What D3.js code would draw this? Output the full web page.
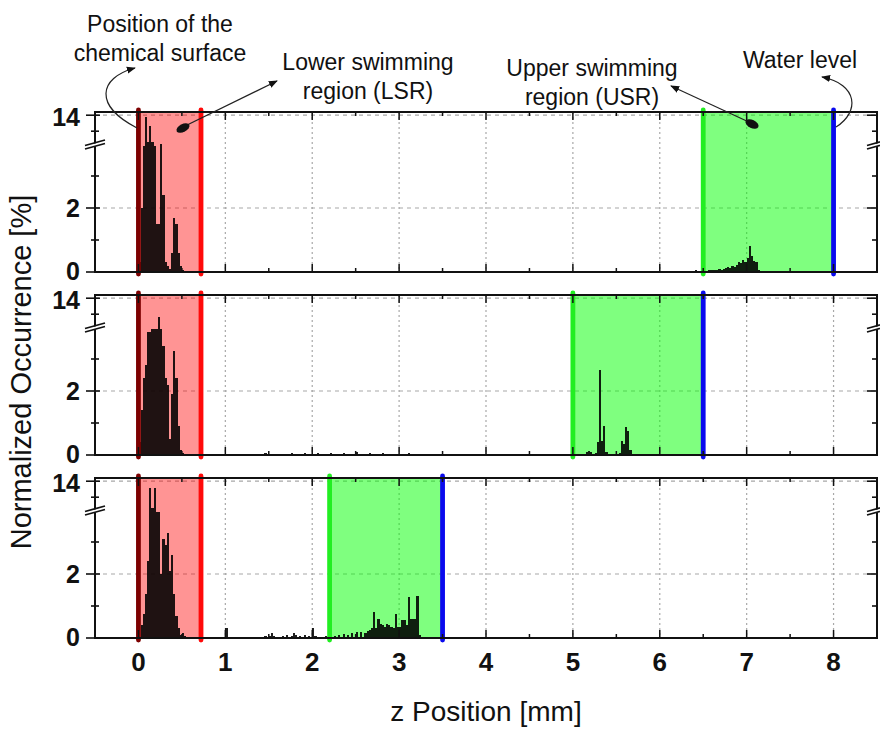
<!DOCTYPE html>
<html>
<head>
<meta charset="utf-8">
<script src="https://cdn.jsdelivr.net/npm/d3@7"></script>
<style>
  body { margin: 0; background: #fff; }
  svg { display: block; }
</style>
</head>
<body>
<svg id="chart" width="880" height="729"></svg>
<script>
// ---- data -------------------------------------------------------------
const binWidth = 0.025;                       // histogram bin width [mm]
const zTicks = [0, 1, 2, 3, 4, 5, 6, 7, 8];
const yTickLabels = [0, 2, 14];
const yMinorTicks = [1, 3, 13];

// [lower edge, upper edge] of the lower / upper swimming regions per run
const lsrBounds = [[0, 0.72], [0, 0.72], [0, 0.72]];
const usrBounds = [[6.5, 8.0], [5.0, 6.5], [2.2, 3.5]];

// [bin start z (mm), normalized occurrence (%)]
const occurrenceTop = [
  [0.000, 0.3], [0.025, 2.0], [0.050, 3.95], [0.075, 13.9], [0.100, 12.3],
  [0.125, 13.3], [0.150, 12.3], [0.175, 3.95], [0.200, 1.5], [0.225, 1.5],
  [0.250, 4.0], [0.275, 2.4], [0.300, 0.3], [0.325, 0.2], [0.350, 0.1],
  [0.375, 0.6], [0.400, 1.7], [0.425, 1.5], [0.450, 0.6], [0.475, 0.2],
  [0.500, 0.05],
  [1.200, 0.02], [2.300, 0.02], [3.100, 0.02], [4.400, 0.02], [5.600, 0.02],
  [6.100, 0.03], [6.300, 0.04], [6.400, 0.05],
  [6.500, 0.05], [6.525, 0.04], [6.550, 0.05], [6.575, 0.06], [6.600, 0.05],
  [6.625, 0.07], [6.650, 0.06], [6.675, 0.08], [6.700, 0.07], [6.725, 0.10],
  [6.750, 0.12], [6.775, 0.15], [6.800, 0.12], [6.825, 0.18], [6.850, 0.15],
  [6.875, 0.22], [6.900, 0.30], [6.925, 0.28], [6.950, 0.38], [6.975, 0.30],
  [7.000, 0.45], [7.025, 0.80], [7.050, 0.50], [7.075, 0.35], [7.100, 0.30],
  [7.125, 0.05]
];

const occurrenceMid = [
  [0.000, 0.4], [0.025, 1.4], [0.050, 2.4], [0.075, 2.8], [0.100, 3.85],
  [0.125, 3.85], [0.150, 3.95], [0.175, 3.95], [0.200, 3.95], [0.225, 12.8],
  [0.250, 3.95], [0.275, 3.4], [0.300, 2.4], [0.325, 2.2], [0.350, 0.5],
  [0.375, 1.9], [0.400, 3.26], [0.425, 2.4], [0.450, 0.9], [0.475, 0.17],
  [0.500, 0.05],
  [1.300, 0.03], [1.450, 0.05], [1.600, 0.04], [1.750, 0.06], [1.900, 0.05],
  [2.050, 0.07], [2.200, 0.05], [2.350, 0.06], [2.500, 0.08], [2.650, 0.05],
  [2.800, 0.06], [2.950, 0.04], [3.100, 0.05], [3.250, 0.04], [3.400, 0.03],
  [3.550, 0.03],
  [5.050, 0.02], [5.100, 0.03], [5.150, 0.10], [5.175, 0.13], [5.200, 0.08],
  [5.225, 0.03], [5.250, 0.05], [5.275, 0.40], [5.300, 2.66], [5.325, 0.45],
  [5.350, 0.92], [5.375, 0.10], [5.400, 0.03], [5.450, 0.02], [5.500, 0.03],
  [5.525, 0.05], [5.550, 0.45], [5.575, 0.35], [5.600, 0.86], [5.625, 0.75],
  [5.650, 0.15], [5.675, 0.03]
];

const occurrenceBottom = [
  [0.025, 0.4], [0.050, 0.76], [0.075, 1.38], [0.100, 2.4], [0.125, 13.6],
  [0.150, 12.3], [0.175, 13.6], [0.200, 3.95], [0.225, 3.95], [0.250, 2.0],
  [0.275, 3.1], [0.300, 2.9], [0.325, 3.27], [0.350, 2.1], [0.375, 2.6],
  [0.400, 1.38], [0.425, 0.7], [0.450, 0.3], [0.475, 0.1], [0.500, 0.15],
  [0.525, 0.05],
  [1.000, 0.3], [1.300, 0.03], [1.350, 0.04], [1.400, 0.03], [1.450, 0.06],
  [1.500, 0.05], [1.525, 0.15], [1.550, 0.05], [1.600, 0.04], [1.650, 0.06],
  [1.700, 0.08], [1.750, 0.06], [1.775, 0.17], [1.800, 0.08], [1.850, 0.06],
  [1.900, 0.10], [1.950, 0.07], [2.000, 0.30], [2.025, 0.05], [2.100, 0.04],
  [2.150, 0.05], [2.200, 0.06], [2.250, 0.07], [2.300, 0.10], [2.350, 0.12],
  [2.400, 0.10], [2.450, 0.15], [2.500, 0.18], [2.550, 0.20], [2.600, 0.15],
  [2.625, 0.22], [2.650, 0.25], [2.675, 0.30], [2.700, 0.80], [2.725, 0.30],
  [2.750, 0.60], [2.775, 0.45], [2.800, 0.40], [2.825, 0.35], [2.850, 0.45],
  [2.875, 0.40], [2.900, 0.35], [2.925, 0.30], [2.950, 0.75], [2.975, 0.35],
  [3.000, 0.35], [3.025, 0.55], [3.050, 0.55], [3.075, 0.40], [3.100, 1.27],
  [3.125, 0.60], [3.150, 0.60], [3.175, 0.60], [3.200, 1.30], [3.225, 0.10],
  [3.250, 0.03]
];

const runs = [occurrenceTop, occurrenceMid, occurrenceBottom];

const annotationLines = [
  { lines: ["Position of the", "chemical surface"], x: 160, y: 32 },
  { lines: ["Lower swimming", "region (LSR)"], x: 368, y: 70 },
  { lines: ["Upper swimming", "region (USR)"], x: 592, y: 76 },
  { lines: ["Water level"], x: 800, y: 68 }
];

// ---- layout -----------------------------------------------------------
const svg = d3.select("#chart");
const left = 95, right = 877;
const panelTops = [112, 295, 478];
const panelH = 160;
const font = "'Liberation Sans', Arial, sans-serif";

const x = d3.scaleLinear().domain([-0.5, 8.5]).range([left, right]);
// broken y axis: 0–4 in the lower part, 12.2–14.2 above the break
const y = d3.scaleLinear().domain([0, 4, 12.2, 14.2]).range([panelH, 32, 32, 0]);
const breakY = 32;

const defs = svg.append("defs");
defs.append("marker")
  .attr("id", "head")
  .attr("viewBox", "0 0 10 10")
  .attr("refX", 9).attr("refY", 5)
  .attr("markerWidth", 9).attr("markerHeight", 9)
  .attr("markerUnits", "userSpaceOnUse")
  .attr("orient", "auto")
  .append("path").attr("d", "M0,1 L10,5 L0,9 Z").attr("fill", "#111");

// one compound path per histogram, so neighbouring bins merge without seams
function histogramPath(data) {
  const p = d3.path();
  data.forEach(([z, v]) => {
    const x0 = x(z), x1 = x(z + binWidth), y0 = y(0), y1 = y(v);
    p.moveTo(x0, y0); p.lineTo(x0, y1); p.lineTo(x1, y1); p.lineTo(x1, y0); p.closePath();
  });
  return p.toString();
}

runs.forEach((data, i) => {
  const top = panelTops[i];
  const g = svg.append("g").attr("transform", `translate(0,${top})`);

  defs.append("clipPath").attr("id", `clip${i}`)
    .append("rect").attr("x", left).attr("y", 0)
    .attr("width", right - left).attr("height", panelH);

  // grid
  g.append("g").selectAll("line").data(zTicks).join("line")
    .attr("x1", d => x(d)).attr("x2", d => x(d))
    .attr("y1", 0).attr("y2", panelH)
    .attr("stroke", "#a8a8a8").attr("stroke-width", 1.2)
    .attr("stroke-dasharray", "2,3");
  g.append("g").selectAll("line").data([2, 14]).join("line")
    .attr("x1", left).attr("x2", right)
    .attr("y1", d => y(d)).attr("y2", d => y(d))
    .attr("stroke", "#a8a8a8").attr("stroke-width", 1.2)
    .attr("stroke-dasharray", "4,4");

  // swimming regions
  const [l0, l1] = lsrBounds[i];
  const [u0, u1] = usrBounds[i];
  g.append("rect").attr("x", x(l0)).attr("width", x(l1) - x(l0))
    .attr("y", 0).attr("height", panelH)
    .attr("fill", "#ff0000").attr("fill-opacity", 0.42);
  g.append("rect").attr("x", x(u0)).attr("width", x(u1) - x(u0))
    .attr("y", 0).attr("height", panelH)
    .attr("fill", "#00ff00").attr("fill-opacity", 0.5);

  // histogram
  g.append("path").attr("clip-path", `url(#clip${i})`)
    .attr("d", histogramPath(data))
    .attr("shape-rendering", "crispEdges")
    .attr("fill", "#000").attr("fill-opacity", 0.88);

  // region boundary lines
  const bounds = [[l0, "#7d0000"], [l1, "#ff0a0a"], [u0, "#22ee22"], [u1, "#0a0aee"]];
  g.append("g").selectAll("line").data(bounds).join("line")
    .attr("x1", d => x(d[0])).attr("x2", d => x(d[0]))
    .attr("y1", -2).attr("y2", panelH + 2)
    .attr("stroke", d => d[1]).attr("stroke-width", 4.8)
    .attr("stroke-linecap", "round");

  // frame
  g.append("rect").attr("x", left).attr("y", 0)
    .attr("width", right - left).attr("height", panelH)
    .attr("fill", "none").attr("stroke", "#111").attr("stroke-width", 2);

  // x ticks on top and bottom edges (pointing inward)
  const halfTicks = d3.range(0, 8.01, 0.5);
  g.append("g").selectAll("line").data(halfTicks).join("line")
    .attr("x1", d => x(d)).attr("x2", d => x(d))
    .attr("y1", panelH).attr("y2", d => panelH - (d % 1 === 0 ? 8 : 4))
    .attr("stroke", "#111").attr("stroke-width", 1.5);
  g.append("g").selectAll("line").data(halfTicks).join("line")
    .attr("x1", d => x(d)).attr("x2", d => x(d))
    .attr("y1", 0).attr("y2", d => (d % 1 === 0 ? 8 : 4))
    .attr("stroke", "#111").attr("stroke-width", 1.5);

  // y ticks left and right
  g.append("g").selectAll("line").data(yTickLabels).join("line")
    .attr("x1", left - 9).attr("x2", left + 5)
    .attr("y1", d => y(d)).attr("y2", d => y(d))
    .attr("stroke", "#111").attr("stroke-width", 1.6);
  g.append("g").selectAll("line").data(yMinorTicks).join("line")
    .attr("x1", left - 4).attr("x2", left + 4)
    .attr("y1", d => y(d)).attr("y2", d => y(d))
    .attr("stroke", "#111").attr("stroke-width", 1.6);
  g.append("g").selectAll("line").data(yTickLabels).join("line")
    .attr("x1", right - 10).attr("x2", right)
    .attr("y1", d => y(d)).attr("y2", d => y(d))
    .attr("stroke", "#111").attr("stroke-width", 1.6);
  g.append("g").selectAll("line").data(yMinorTicks).join("line")
    .attr("x1", right - 5).attr("x2", right)
    .attr("y1", d => y(d)).attr("y2", d => y(d))
    .attr("stroke", "#111").attr("stroke-width", 1.6);

  // axis break marks
  [left, right].forEach(ax => {
    const b = g.append("g").attr("transform", `translate(${ax},${breakY})`);
    b.append("path").attr("d", "M-9,2 L9,-3 L9,0 L-9,5 Z").attr("fill", "#fff");
    b.append("path").attr("d", "M-10,1.5 L10,-4 M-10,5 L10,-0.5")
      .attr("stroke", "#111").attr("stroke-width", 1.8);
  });

  // y tick labels
  g.append("g").selectAll("text").data(yTickLabels).join("text")
    .attr("x", 80).attr("y", d => y(d) + (d === 0 ? 8 : d === 14 ? 11 : 9))
    .attr("text-anchor", "end")
    .attr("font-family", font).attr("font-weight", "bold").attr("font-size", 25)
    .attr("fill", "#111")
    .text(d => d);
});

// x tick labels under the bottom panel
const bottom = panelTops[2] + panelH;
svg.append("g").selectAll("text").data(zTicks).join("text")
  .attr("x", d => x(d)).attr("y", bottom + 33)
  .attr("text-anchor", "middle")
  .attr("font-family", font).attr("font-weight", "bold").attr("font-size", 26)
  .attr("fill", "#111")
  .text(d => d);

// axis titles
svg.append("text")
  .attr("x", 486).attr("y", 721)
  .attr("text-anchor", "middle")
  .attr("font-family", font).attr("font-size", 28).attr("fill", "#111")
  .text("z Position [mm]");
svg.append("text")
  .attr("transform", "translate(31,372) rotate(-90)")
  .attr("text-anchor", "middle")
  .attr("font-family", font).attr("font-size", 29).attr("fill", "#111")
  .text("Normalized Occurrence [%]");

// annotations
annotationLines.forEach(a => {
  const t = svg.append("text")
    .attr("text-anchor", "middle")
    .attr("font-family", font).attr("font-size", 23).attr("fill", "#111");
  a.lines.forEach((s, k) => {
    t.append("tspan").attr("x", a.x).attr("y", a.y + k * 29).text(s);
  });
});

const arrows = svg.append("g").attr("fill", "none").attr("stroke", "#222").attr("stroke-width", 1.2);
arrows.append("path").attr("d", "M137,128 C94,106 98,78 135,68").attr("marker-end", "url(#head)");
arrows.append("path").attr("d", "M183,127 L277,81").attr("marker-end", "url(#head)");
arrows.append("path").attr("d", "M751,123 L671,86").attr("marker-end", "url(#head)");
arrows.append("path").attr("d", "M836,127 C860,112 858,84 822,77").attr("marker-end", "url(#head)");

// arrow tails
svg.append("ellipse").attr("cx", 183).attr("cy", 128).attr("rx", 7).attr("ry", 4)
  .attr("transform", "rotate(-27,183,128)").attr("fill", "#111");
svg.append("ellipse").attr("cx", 752).attr("cy", 124).attr("rx", 7).attr("ry", 4)
  .attr("transform", "rotate(25,752,124)").attr("fill", "#111");
</script>
</body>
</html>
